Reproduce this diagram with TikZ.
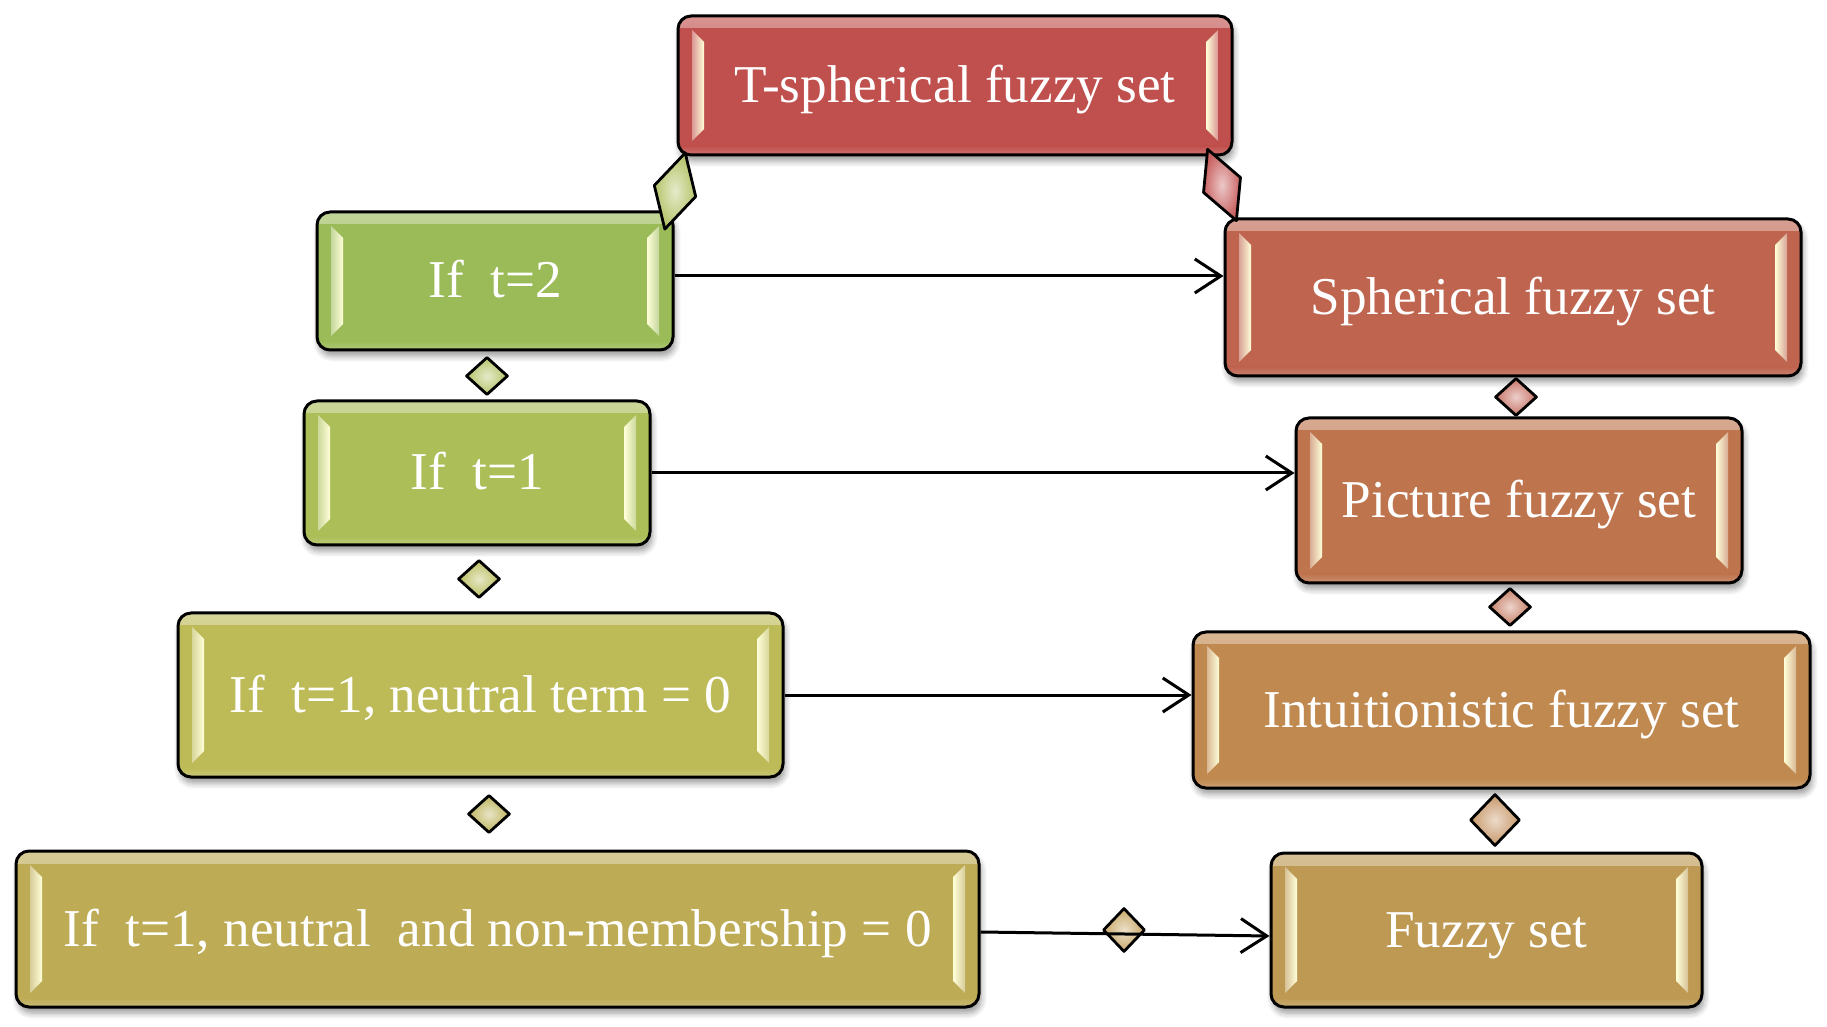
\documentclass[tikz,border=0pt]{standalone}
\usepackage{fontspec}
\setmainfont{Liberation Serif}
\usetikzlibrary{shapes.geometric,arrows.meta,calc,shadows.blur}

\definecolor{cTS}{HTML}{C0504D}
\definecolor{cSP}{HTML}{BE644F}
\definecolor{cPI}{HTML}{BE754E}
\definecolor{cIN}{HTML}{C08950}
\definecolor{cFU}{HTML}{BD9953}
\definecolor{cG2}{HTML}{9BBB59}
\definecolor{cG1}{HTML}{ABBE58}
\definecolor{cG3}{HTML}{BDBB58}
\definecolor{cG4}{HTML}{BDAB56}
\definecolor{dG1}{HTML}{B4C468}
\definecolor{dG2}{HTML}{BABE60}
\definecolor{dG3}{HTML}{BEB45E}
\definecolor{dR1}{HTML}{C96262}
\definecolor{dR2}{HTML}{C87468}
\definecolor{dR3}{HTML}{C8826A}
\definecolor{dR4}{HTML}{C8986A}
\definecolor{dR5}{HTML}{C8A868}
\definecolor{glow}{HTML}{FFFFD8}

\tikzset{
  fbox/.style={draw=black, line width=3pt, rounded corners=13pt, fill=#1,
    text=white, inner sep=0pt, font=\fontsize{53.2}{60}\selectfont,
    text height=46pt, text depth=12pt,
    blur shadow={shadow xshift=2pt, shadow yshift=-6pt, shadow blur steps=6,
      shadow opacity=40, shadow blur radius=6pt},
    path picture={
      \fill[sharp corners, top color=#1!62!white, bottom color=#1]
        (path picture bounding box.north west) rectangle
        ([yshift=-12pt]path picture bounding box.north east);
      \fill[sharp corners, top color=#1, bottom color=#1!80!white]
        ([yshift=9pt]path picture bounding box.south west) rectangle
        (path picture bounding box.south east);
      \shade[sharp corners, left color=#1!60!white, right color=glow]
        ([xshift=14pt,yshift=-14pt]path picture bounding box.north west) --
        ([xshift=26pt,yshift=-26pt]path picture bounding box.north west) --
        ([xshift=26pt,yshift=26pt]path picture bounding box.south west) --
        ([xshift=14pt,yshift=14pt]path picture bounding box.south west) -- cycle;
      \shade[sharp corners, right color=#1!60!white, left color=glow]
        ([xshift=-14pt,yshift=-14pt]path picture bounding box.north east) --
        ([xshift=-26pt,yshift=-26pt]path picture bounding box.north east) --
        ([xshift=-26pt,yshift=26pt]path picture bounding box.south east) --
        ([xshift=-14pt,yshift=14pt]path picture bounding box.south east) -- cycle;
    }},
  dia/.style={diamond, draw=black, line width=2.8pt, line join=round, inner sep=0pt,
    minimum width=42pt, minimum height=38pt, inner color=#1!35!white, outer color=#1},
  arr/.style={line width=3pt, -{Straight Barb[length=26pt,width=34pt,line width=3pt]}},
}

\begin{document}
\begin{tikzpicture}[x=1pt,y=1pt]
\useasboundingbox (0,0) rectangle (1827,1026);

\node[fbox=cTS, minimum width=554pt, minimum height=139pt] (n1) at (955,940.5) {T-spherical fuzzy set};
\node[fbox=cG2, minimum width=356pt, minimum height=138pt] (n2) at (495,745) {If~~t=2};
\node[fbox=cSP, minimum width=576pt, minimum height=157pt] (n3) at (1513,728.5) {Spherical fuzzy set};
\node[fbox=cG1, minimum width=346pt, minimum height=144pt] (n4) at (477,553) {If~~t=1};
\node[fbox=cPI, minimum width=446pt, minimum height=165pt] (n5) at (1519,525.5) {Picture fuzzy set};
\node[fbox=cG3, minimum width=605pt, minimum height=164pt] (n6) at (480.5,331) {If~~t=1, neutral term = 0};
\node[fbox=cIN, minimum width=617pt, minimum height=156pt] (n7) at (1501.5,316) {Intuitionistic fuzzy set};
\node[fbox=cG4, minimum width=963pt, minimum height=156pt] (n8) at (497.5,97) {If~~t=1, neutral~~and non-membership = 0};
\node[fbox=cFU, minimum width=431pt, minimum height=154pt] (n9) at (1486.5,96) {Fuzzy set};

% diamonds
\node[dia=dG1, minimum width=44pt, minimum height=80pt, rotate=-15] (d1) at (675,835) {};
\node[dia=dR1, minimum width=41pt, minimum height=78pt, rotate=22] (d2) at (1222,841) {};
\node[dia=dG1] (d3) at (487,650) {};
\node[dia=dG2] (d4) at (479,447) {};
\node[dia=dG3] (d5) at (489,212) {};
\node[dia=dR2] (d6) at (1516,629) {};
\node[dia=dR3] (d7) at (1510,419) {};
\node[dia=dR4, minimum width=50pt, minimum height=52pt] (d8) at (1495,206) {};
\node[dia=dR5, minimum width=42pt, minimum height=44pt] (d9) at (1124,96) {};

% arrows
\coordinate (a1) at ([yshift=5pt]n2.east);
\draw[arr] (a1) -- (a1 -| n3.west);
\draw[arr] (n4.east) -- (n4.east -| n5.west);
\draw[arr] (n6.east) -- (n6.east -| n7.west);
\draw[arr] ([yshift=-3pt]n8.east) -- ([yshift=-6pt]n9.west);
\end{tikzpicture}
\end{document}
